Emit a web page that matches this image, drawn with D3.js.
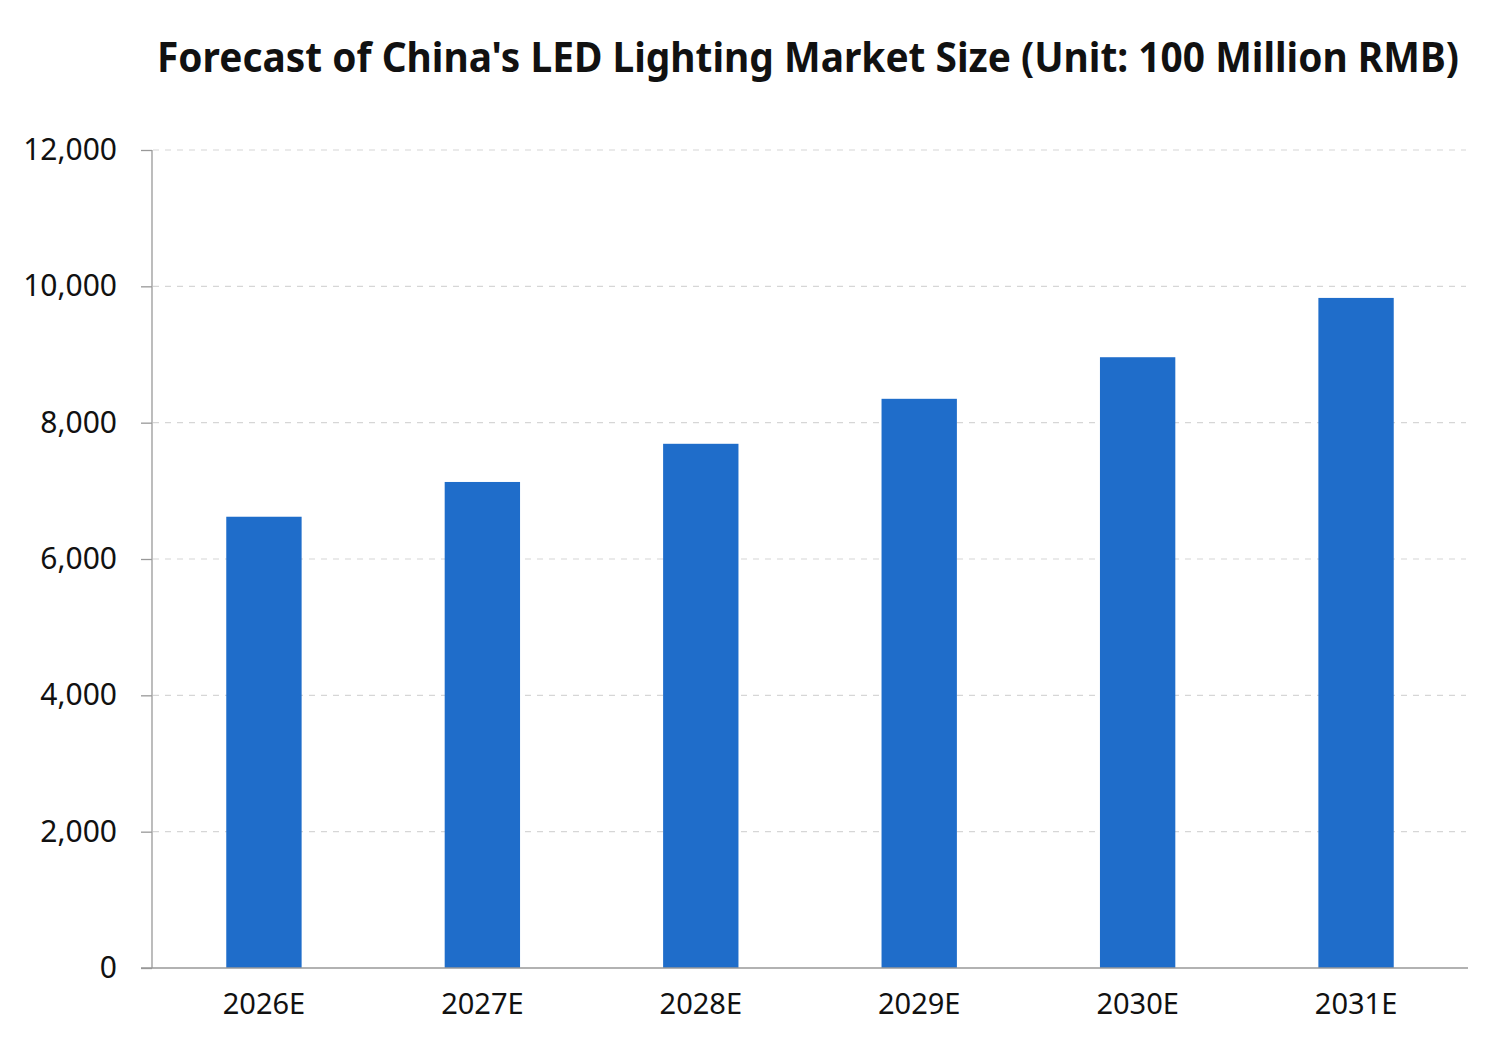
<!DOCTYPE html>
<html>
<head>
  <meta charset="utf-8">
  <title>Forecast of China's LED Lighting Market Size</title>
  <style>
    body { margin: 0; background: #fff; }
    .axis text { font-family: "Noto Sans", "Open Sans", sans-serif; fill: #111; }
  </style>
</head>
<body>
  <script src="https://cdn.jsdelivr.net/npm/d3@7/dist/d3.min.js"></script>
  <script>
    // data
    var years = ["2026E", "2027E", "2028E", "2029E", "2030E", "2031E"];
    var marketSize = [6620, 7130, 7690, 8350, 8960, 9830];
    var yTicks = [0, 2000, 4000, 6000, 8000, 10000, 12000];

    var width = 1493, height = 1054;
    var plotLeft = 152, plotRight = 1468, plotTop = 150, plotBottom = 968;

    var svg = d3.select("body").append("svg")
      .attr("width", width)
      .attr("height", height);

    var x = d3.scaleBand().domain(years).range([plotLeft, plotRight]).paddingInner(0.655).paddingOuter(0.34);
    var y = d3.scaleLinear().domain([0, 12000]).range([plotBottom, plotTop]);

    // dashed gridlines
    svg.append("g").selectAll("line")
      .data(yTicks.filter(function (d) { return d > 0; }))
      .enter().append("line")
      .attr("x1", plotLeft + 1)
      .attr("x2", plotRight - 2)
      .attr("y1", function (d) { return y(d); })
      .attr("y2", function (d) { return y(d); })
      .attr("stroke", "#d6d6d6")
      .attr("stroke-width", 1.2)
      .attr("stroke-dasharray", "6,6");

    // bars
    svg.append("g").selectAll("rect")
      .data(years)
      .enter().append("rect")
      .attr("x", function (d) { return x(d); })
      .attr("width", x.bandwidth())
      .attr("y", function (d, i) { return y(marketSize[i]); })
      .attr("height", function (d, i) { return plotBottom - y(marketSize[i]); })
      .attr("fill", "#1f6dca");

    // y axis
    var yAxis = svg.append("g")
      .attr("class", "axis")
      .attr("transform", "translate(" + plotLeft + ",0)")
      .call(d3.axisLeft(y).tickValues(yTicks).tickSize(11).tickPadding(24)
        .tickFormat(d3.format(",")));
    yAxis.selectAll("text").style("font-size", "30px");
    yAxis.select(".domain").attr("stroke", "#999").attr("stroke-width", 1.3).attr("d", "M0," + plotTop + "V" + plotBottom);
    yAxis.selectAll(".tick line").attr("stroke", "#999").attr("stroke-width", 1.3);

    // x axis
    var xAxis = svg.append("g")
      .attr("class", "axis")
      .attr("transform", "translate(0," + plotBottom + ")")
      .call(d3.axisBottom(x).tickSize(0).tickPadding(25));
    xAxis.selectAll("text").style("font-size", "29px");
    xAxis.select(".domain").attr("stroke", "#999").attr("stroke-width", 1.3)
      .attr("d", "M" + (plotLeft - 11) + ",0H" + plotRight);

    // title
    svg.append("text")
      .attr("x", 157)
      .attr("y", 72)
      .attr("textLength", 1302)
      .attr("lengthAdjust", "spacingAndGlyphs")
      .style("font-family", "'Noto Sans', 'Open Sans', sans-serif")
      .style("font-weight", "bold")
      .style("font-size", "42px")
      .style("fill", "#111")
      .text("Forecast of China's LED Lighting Market Size (Unit: 100 Million RMB)");
  </script>
</body>
</html>
